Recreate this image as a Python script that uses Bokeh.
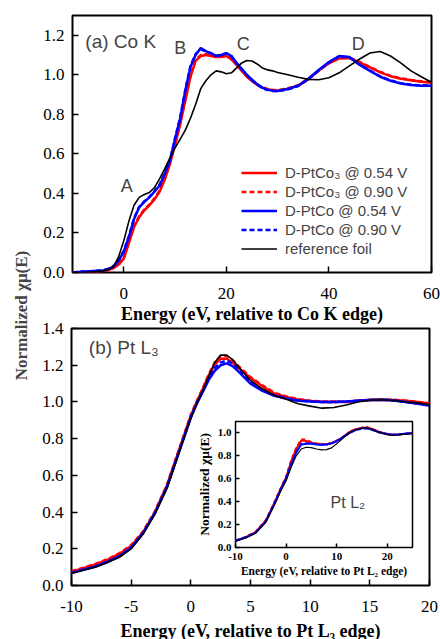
import math
from bokeh.plotting import figure
from bokeh.models import (Range1d, FixedTicker, PrintfTickFormatter, Label,
                          Legend, LegendItem, Column)
from bokeh.embed import file_html
from bokeh.resources import INLINE

# ---------------- Panel (a): Co K edge ----------------
co_energy = [-10, -8, -6, -4, -3, -2, -1, 0, 1, 2, 3, 4, 5, 6, 7, 8, 9, 10, 11, 12,
             13, 14, 15, 16, 17, 18, 19, 20, 21, 22, 23, 24, 25, 26, 27, 28, 29, 30,
             32, 34, 36, 38, 40, 42, 44, 46, 48, 50, 52, 54, 56, 58, 60]
co_ptco3_054 = [0.0, 0.003, 0.003, 0.008, 0.012, 0.022, 0.04, 0.07, 0.15, 0.23, 0.28, 0.315,
                0.34, 0.37, 0.41, 0.47, 0.55, 0.645, 0.75, 0.87, 0.99, 1.07, 1.095, 1.10,
                1.095, 1.09, 1.09, 1.095, 1.077, 1.05, 1.02, 0.99, 0.968, 0.95, 0.935, 0.927,
                0.922, 0.92, 0.93, 0.945, 0.977, 1.02, 1.058, 1.083, 1.085, 1.062, 1.037,
                1.012, 0.993, 0.98, 0.972, 0.965, 0.96]
co_ptco3_090 = [0.0, 0.004, 0.004, 0.009, 0.013, 0.024, 0.045, 0.075, 0.155, 0.235, 0.285,
                0.318, 0.345, 0.375, 0.415, 0.475, 0.555, 0.65, 0.755, 0.875, 0.995, 1.075,
                1.10, 1.105, 1.098, 1.092, 1.093, 1.098, 1.08, 1.052, 1.022, 0.993, 0.97,
                0.952, 0.937, 0.928, 0.924, 0.922, 0.932, 0.947, 0.98, 1.022, 1.06, 1.085,
                1.087, 1.065, 1.04, 1.015, 0.995, 0.982, 0.974, 0.967, 0.962]
co_ptco_054 = [0.0, 0.004, 0.008, 0.01, 0.018, 0.03, 0.06, 0.105, 0.18, 0.27, 0.33, 0.357,
               0.38, 0.41, 0.44, 0.50, 0.565, 0.675, 0.78, 0.92, 1.04, 1.10, 1.135, 1.12,
               1.11, 1.095, 1.10, 1.11, 1.095, 1.06, 1.03, 1.0, 0.975, 0.952, 0.935, 0.925,
               0.92, 0.918, 0.928, 0.945, 0.98, 1.025, 1.065, 1.095, 1.09, 1.05, 1.02,
               0.99, 0.97, 0.956, 0.948, 0.945, 0.945]
co_ptco_090 = [0.0, 0.005, 0.007, 0.011, 0.019, 0.032, 0.062, 0.11, 0.185, 0.275, 0.332,
               0.36, 0.383, 0.412, 0.445, 0.505, 0.57, 0.68, 0.785, 0.925, 1.045, 1.105,
               1.13, 1.118, 1.108, 1.097, 1.102, 1.108, 1.092, 1.058, 1.028, 0.998, 0.973,
               0.95, 0.933, 0.923, 0.918, 0.917, 0.926, 0.943, 0.978, 1.022, 1.062, 1.092,
               1.088, 1.052, 1.022, 0.992, 0.972, 0.958, 0.95, 0.947, 0.946]
co_foil = [0.0, 0.0, 0.003, 0.008, 0.015, 0.03, 0.08, 0.16, 0.26, 0.34, 0.38, 0.395, 0.405,
           0.43, 0.475, 0.525, 0.58, 0.63, 0.675, 0.72, 0.78, 0.85, 0.93, 0.97, 1.0, 1.02,
           1.015, 1.005, 1.01, 1.035, 1.06, 1.072, 1.07, 1.055, 1.035, 1.025, 1.02, 1.012,
           1.0, 0.988, 0.977, 0.975, 0.985, 1.01, 1.045, 1.08, 1.11, 1.118, 1.095, 1.06,
           1.02, 0.99, 0.962]
co_x_ticks = [0, 20, 40, 60]
co_y_ticks = [0.0, 0.2, 0.4, 0.6, 0.8, 1.0, 1.2]

# ---------------- Panel (b): Pt L3 edge ----------------
pt3_energy = [-10, -9, -8, -7, -6, -5, -4, -3, -2, -1, 0, 0.5, 1, 1.5, 2, 2.5, 3, 3.5, 4,
              5, 6, 7, 8, 9, 10, 11, 12, 13, 14, 15, 16, 17, 18, 19, 20]
pt3_ptco3_054 = [0.075, 0.094, 0.115, 0.14, 0.172, 0.215, 0.29, 0.40, 0.545, 0.735, 0.925,
                 1.0, 1.07, 1.145, 1.205, 1.235, 1.235, 1.215, 1.185, 1.13, 1.085, 1.045,
                 1.027, 1.012, 1.005, 1.0, 1.0, 1.0, 1.006, 1.01, 1.012, 1.01, 1.006, 1.0, 0.992]
pt3_ptco3_090 = [0.078, 0.097, 0.118, 0.143, 0.175, 0.22, 0.295, 0.405, 0.55, 0.74, 0.93,
                 1.005, 1.075, 1.15, 1.215, 1.25, 1.25, 1.228, 1.195, 1.135, 1.09, 1.05,
                 1.03, 1.015, 1.007, 1.003, 1.002, 1.002, 1.007, 1.012, 1.014, 1.012, 1.007, 1.0, 0.993]
pt3_ptco_054 = [0.068, 0.086, 0.103, 0.128, 0.158, 0.205, 0.285, 0.395, 0.535, 0.725, 0.915,
                0.99, 1.055, 1.12, 1.17, 1.2, 1.21, 1.195, 1.165, 1.10, 1.06, 1.033, 1.018,
                1.007, 1.002, 1.0, 1.0, 1.002, 1.007, 1.011, 1.012, 1.008, 1.0, 0.99, 0.98]
pt3_ptco_090 = [0.069, 0.087, 0.104, 0.13, 0.16, 0.207, 0.287, 0.397, 0.537, 0.728, 0.918,
                0.995, 1.06, 1.13, 1.185, 1.215, 1.225, 1.21, 1.175, 1.108, 1.065, 1.036,
                1.02, 1.008, 1.003, 1.0, 1.0, 1.002, 1.006, 1.01, 1.012, 1.008, 1.0, 0.99, 0.98]
pt3_foil = [0.067, 0.083, 0.10, 0.125, 0.154, 0.20, 0.28, 0.39, 0.53, 0.72, 0.91, 0.99,
            1.06, 1.14, 1.215, 1.255, 1.255, 1.23, 1.19, 1.117, 1.07, 1.035, 1.015, 0.99,
            0.977, 0.966, 0.97, 0.983, 1.0, 1.01, 1.012, 1.008, 1.0, 0.995, 0.985]
pt3_x_ticks = [-10, -5, 0, 5, 10, 15, 20]
pt3_y_ticks = [0.0, 0.2, 0.4, 0.6, 0.8, 1.0, 1.2, 1.4]

# ---------------- Inset: Pt L2 edge ----------------
pt2_energy = [-10, -8, -6, -4, -3, -2, -1, 0, 1, 2, 3, 4, 5, 6, 7, 8, 9, 10, 11, 12, 13,
              14, 15, 16, 17, 18, 19, 20, 21, 22, 23, 24, 25]
pt2_ptco3_054 = [0.06, 0.09, 0.135, 0.235, 0.325, 0.42, 0.52, 0.61, 0.75, 0.86, 0.935, 0.93,
                 0.913, 0.905, 0.90, 0.902, 0.91, 0.93, 0.955, 0.99, 1.02, 1.035, 1.045,
                 1.048, 1.035, 1.015, 1.0, 0.99, 0.985, 0.985, 0.99, 0.995, 1.0]
pt2_ptco3_090 = [0.062, 0.092, 0.138, 0.24, 0.33, 0.425, 0.525, 0.62, 0.76, 0.87, 0.945,
                 0.94, 0.92, 0.91, 0.903, 0.904, 0.912, 0.932, 0.957, 0.99, 1.02, 1.036,
                 1.046, 1.05, 1.037, 1.017, 1.002, 0.99, 0.986, 0.986, 0.99, 0.995, 1.0]
pt2_ptco_054 = [0.058, 0.087, 0.13, 0.228, 0.318, 0.41, 0.51, 0.60, 0.72, 0.83, 0.90, 0.905,
                0.905, 0.90, 0.897, 0.90, 0.91, 0.93, 0.955, 0.985, 1.012, 1.03, 1.04, 1.04,
                1.03, 1.012, 1.0, 0.99, 0.985, 0.985, 0.99, 0.995, 0.998]
pt2_ptco_090 = [0.059, 0.088, 0.132, 0.23, 0.32, 0.413, 0.513, 0.605, 0.725, 0.835, 0.905,
                0.91, 0.908, 0.902, 0.898, 0.9, 0.91, 0.928, 0.953, 0.983, 1.01, 1.028,
                1.038, 1.04, 1.028, 1.01, 0.998, 0.99, 0.985, 0.985, 0.99, 0.994, 0.997]
pt2_foil = [0.055, 0.083, 0.125, 0.22, 0.31, 0.40, 0.50, 0.58, 0.70, 0.80, 0.86, 0.875,
            0.872, 0.86, 0.853, 0.855, 0.87, 0.905, 0.945, 0.985, 1.015, 1.03, 1.04, 1.045,
            1.03, 1.012, 0.998, 0.985, 0.978, 0.982, 0.988, 0.99, 0.995]
pt2_x_ticks = [-10, 0, 10, 20]
pt2_y_ticks = [0.0, 0.2, 0.4, 0.6, 0.8, 1.0]

series_labels = ["D-PtCo\u2083 @ 0.54 V", "D-PtCo\u2083 @ 0.90 V",
                 "D-PtCo @ 0.54 V", "D-PtCo @ 0.90 V", "reference foil"]
y_title = "Normalized \u03c7\u03bc(E)"

SERIF = "Liberation Serif"
SANS = "Liberation Sans"


def make_fig(w, h, xr, yr, left, right, top, bottom, margin):
    p = figure(width=w, height=h, x_range=Range1d(*xr), y_range=Range1d(*yr), title=None,
               output_backend="svg", toolbar_location=None,
               min_border_left=left, min_border_right=right,
               min_border_top=top, min_border_bottom=bottom, margin=margin)
    p.frame_align = False
    p.border_fill_alpha = 0
    p.background_fill_color = "white"
    return p


def style(p, xticks, yticks, tick_size, tick_len, outline_w, xstand, ystand):
    p.outline_line_color = "black"
    p.outline_line_width = outline_w
    p.xgrid.visible = False
    p.ygrid.visible = False
    for ax in (p.xaxis[0], p.yaxis[0]):
        ax.axis_line_color = None
        ax.major_tick_in = tick_len
        ax.major_tick_out = 0
        ax.major_tick_line_width = 1.5
        ax.major_tick_line_color = "black"
        ax.minor_tick_line_color = None
        ax.major_label_text_font = SERIF
        ax.major_label_text_font_size = tick_size
        ax.major_label_text_color = "black"
        ax.axis_label_text_font = SERIF
        ax.axis_label_text_font_style = "bold"
        ax.axis_label_text_color = "black"
    p.xaxis[0].ticker = FixedTicker(ticks=xticks)
    p.yaxis[0].ticker = FixedTicker(ticks=yticks)
    p.xaxis[0].formatter = PrintfTickFormatter(format="%d")
    p.yaxis[0].formatter = PrintfTickFormatter(format="%.1f")
    p.xaxis[0].major_label_standoff = xstand
    p.yaxis[0].major_label_standoff = ystand


def draw(p, x, ys, wcol, wblack, dash):
    colors = ["#ff0000", "#ff0000", "#0000ff", "#0000ff", "black"]
    dashes = ["solid", dash, "solid", dash, "solid"]
    rs = []
    for y, c, d in zip(ys, colors, dashes):
        w = wblack if c == "black" else wcol
        rs.append(p.line(x, y, line_color=c, line_width=w, line_dash=d))
    return rs


# ---------- shared vertical title (bottom layer, page 0..639) ----------
py = figure(width=40, height=639, x_range=Range1d(0, 40), y_range=Range1d(0, 639), title=None,
            output_backend="svg", toolbar_location=None, x_axis_type=None, y_axis_type=None,
            min_border=0)
py.frame_align = False
py.outline_line_color = None
py.background_fill_alpha = 0
py.border_fill_alpha = 0
py.xgrid.visible = False
py.ygrid.visible = False
py.add_layout(Label(x=21, y=639 - 315, text=y_title, text_font=SERIF,
                    text_font_style="bold", text_font_size="17px", angle=math.pi / 2,
                    text_align="center", text_baseline="middle"))

# ---------- panel (a): page y 0..335 ----------
pa = make_fig(440, 335, (-10, 60), (0, 1.3), 72, 9, 15, 63, (-639, 0, 0, 0))
style(pa, co_x_ticks, co_y_ticks, "17px", 6, 2, 15, 8)
pa.xaxis[0].axis_label = "Energy (eV, relative to Co K edge)"
pa.xaxis[0].axis_label_text_font_size = "18px"
pa.xaxis[0].axis_label_standoff = 2
rs_a = draw(pa, co_energy, [co_ptco3_054, co_ptco3_090, co_ptco_054, co_ptco_090, co_foil],
            2.5, 1.6, "5 3")
legend = Legend(items=[LegendItem(label=l, renderers=[r]) for l, r in zip(series_labels, rs_a)],
                location=(169, 14), padding=0, margin=0, spacing=0,
                label_height=19, glyph_height=19, glyph_width=36, label_standoff=8,
                label_text_font=SANS, label_text_font_size="15px",
                background_fill_alpha=0, border_line_color=None)
pa.add_layout(legend)
pa.add_layout(Label(x=-7.5, y=1.17, text="(a) Co K", text_font=SANS, text_font_size="19px",
                    text_baseline="middle", text_align="left"))
for t, lx, ly in [("A", 0.6, 0.44), ("B", 11.0, 1.135), ("C", 23.3, 1.154), ("D", 45.7, 1.154)]:
    pa.add_layout(Label(x=lx, y=ly, text=t, text_font=SANS, text_font_size="18px",
                        text_baseline="middle", text_align="center"))

# ---------- panel (b): page y 320..650 ----------
pb = make_fig(440, 330, (-10, 20), (0, 1.4), 71, 11, 8, 65, (-15, 0, 0, 0))
style(pb, pt3_x_ticks, pt3_y_ticks, "17px", 6, 2, 15, 8)
pb.xaxis[0].axis_label = "Energy (eV, relative to Pt L\u2083 edge)"
pb.xaxis[0].axis_label_text_font_size = "18px"
pb.xaxis[0].axis_label_standoff = 6
draw(pb, pt3_energy, [pt3_ptco3_054, pt3_ptco3_090, pt3_ptco_054, pt3_ptco_090, pt3_foil],
     2.5, 1.6, "5 3")
pb.add_layout(Label(x=-8.55, y=1.296, text="(b) Pt L\u2083", text_font=SANS,
                    text_font_size="19px", text_baseline="middle", text_align="left"))

# ---------- inset (Pt L2): page x 190..434, y 415..587 ----------
pi = make_fig(244, 172, (-10, 25), (0, 1.1), 45, 22, 6, 40, (-235, 0, 0, 190))
style(pi, pt2_x_ticks, pt2_y_ticks, "11px", 4, 1.5, 5, 4)
for ax in (pi.xaxis[0], pi.yaxis[0]):
    ax.major_label_text_font_style = "bold"
pi.xaxis[0].axis_label = "Energy (eV, relative to Pt L\u2082 edge)"
pi.xaxis[0].axis_label_text_font_size = "11.5px"
pi.xaxis[0].axis_label_standoff = 2
pi.yaxis[0].axis_label = y_title
pi.yaxis[0].axis_label_text_font_size = "13.5px"
pi.yaxis[0].axis_label_standoff = 3
draw(pi, pt2_energy, [pt2_ptco3_054, pt2_ptco3_090, pt2_ptco_054, pt2_ptco_090, pt2_foil],
     2.0, 1.2, "4 3")
pi.add_layout(Label(x=8.8, y=0.39, text="Pt L\u2082", text_font=SANS, text_font_size="16px",
                    text_baseline="middle", text_align="left"))

layout = Column(children=[py, pa, pb, pi], spacing=0)

open("out.html", "w").write(file_html(layout, INLINE))
